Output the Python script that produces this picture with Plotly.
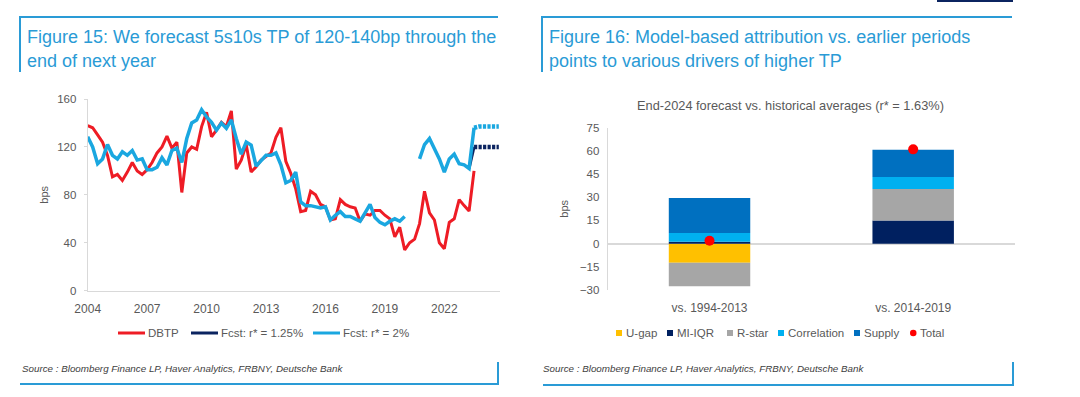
import plotly.graph_objects as go

W, H = 1080, 397

# ---------------- Figure 15 data (quarterly, 2004Q1 .. 2023Q3) ----------------
start_year = 2004.0
dbtp = [137.7, 136, 130, 124, 113, 95, 97, 92, 99, 107, 100, 97,
        101, 107, 115, 120, 129, 119, 124, 82, 115, 120, 118, 137,
        149, 128.5, 134, 140.5, 137, 150, 101.5, 109, 122, 99, 103.5, 109,
        112, 115, 128, 136, 108, 98, 85, 66, 67, 83, 80, 72,
        70, 59, 60, 76, 72, 70, 69, 58, 64, 63, 67, 67,
        63, 60, 45, 53, 34, 40, 43, 56, 83, 65, 59, 40,
        35, 57, 60, 76, 71, 66.5, 100]
fcst_2 = [128.5, 120, 106, 110, 122, 113, 110, 116, 113, 117, 109, 110,
          101, 101, 103, 111, 105, 117, 119, 107, 127, 140, 142.5, 151,
          145, 140.5, 134, 140, 135.5, 142.5, 127, 114, 124, 121.6, 104, 109,
          113, 113, 115, 105, 90, 92, 99, 74, 71, 71, 70, 69,
          70, 59, 63, 66, 62, 62, 60, 58, 65, 72, 61, 57,
          55, 58, 60, 58, 62, None, None, 110, 122, 127, 119, 110,
          99, 110, 114, 106, 105, 102, 136]
hist_x = [start_year + 0.25 * i for i in range(len(dbtp))]

# forecast paths
fc_x = [2023.5, 2023.75, 2024.0, 2024.25, 2024.5, 2024.75]
fc_2_vals = [136, 137, 137, 137, 137, 137]
fc_125_lead_x = [2023.25, 2023.5]
fc_125_lead = [102, 120]
fc_125_vals = [120, 120, 120, 120, 120, 120]

x_ticks_left = [2004, 2007, 2010, 2013, 2016, 2019, 2022]
y_ticks_left = [0, 40, 80, 120, 160]
left_names = ["DBTP", "Fcst: r* = 1.25%", "Fcst: r* = 2%"]

# ---------------- Figure 16 data ----------------
periods = ["vs. 1994-2013", "vs. 2014-2019"]
u_gap = [-12.3, 0.0]
mi_iqr = [1.2, 14.9]
r_star = [-15.3, 20.5]
correlation = [5.7, 7.7]
supply = [22.6, 17.7]
total = [1.9, 61.0]
y_ticks_right = [-30, -15, 0, 15, 30, 45, 60, 75]
right_names = ["U-gap", "MI-IQR", "R-star", "Correlation", "Supply", "Total"]

# ---------------- colours / fonts ----------------
RED = "#EE1C25"
NAVY = "#0B2460"
LBLUE = "#1AA7E0"
HEAD = "#2A9BD6"
GREY_TXT = "#595959"
AXIS = "#D9D9D9"
FONT = "Liberation Sans, Arial, sans-serif"
left_colors = [RED, NAVY, LBLUE]
right_colors = ["#FFC000", "#002060", "#A6A6A6", "#00B0F0", "#0070C0", "#FF0000"]


def px(x):
    return x / W


def py(y):
    return 1 - y / H


fig = go.Figure()

# ---- Figure 15 traces ----
fig.add_trace(go.Scatter(x=hist_x, y=dbtp, mode="lines", name=left_names[0],
                         line=dict(color=RED, width=3), xaxis="x", yaxis="y"))
fig.add_trace(go.Scatter(x=fc_125_lead_x, y=fc_125_lead, mode="lines", name=left_names[1],
                         line=dict(color=NAVY, width=3), xaxis="x", yaxis="y"))
fig.add_trace(go.Scatter(x=fc_x, y=fc_125_vals, mode="lines", name=left_names[1],
                         line=dict(color=NAVY, width=4.5, dash="3.2px,1.3px"),
                         xaxis="x", yaxis="y"))
fig.add_trace(go.Scatter(x=hist_x, y=fcst_2, mode="lines", name=left_names[2],
                         line=dict(color=LBLUE, width=3.5), connectgaps=False,
                         xaxis="x", yaxis="y"))
fig.add_trace(go.Scatter(x=fc_x, y=fc_2_vals, mode="lines", name=left_names[2],
                         line=dict(color=LBLUE, width=4.5, dash="3.2px,1.3px"),
                         xaxis="x", yaxis="y"))

# ---- Figure 16 traces ----
bar_vals = [u_gap, mi_iqr, r_star, correlation, supply]
for name, vals, col in zip(right_names[:5], bar_vals, right_colors[:5]):
    fig.add_trace(go.Bar(x=periods, y=vals, name=name,
                         marker=dict(color=col, line=dict(width=0)),
                         xaxis="x2", yaxis="y2", width=0.4))
fig.add_trace(go.Scatter(x=periods, y=total, mode="markers", name=right_names[5],
                         marker=dict(color=right_colors[5], size=10, line=dict(width=0)),
                         xaxis="x2", yaxis="y2"))

ytickfont = dict(family=FONT, size=11.5, color=GREY_TXT)
xtickfont = dict(family=FONT, size=12, color=GREY_TXT)

fig.update_layout(
    width=W, height=H,
    margin=dict(l=0, r=0, t=0, b=0, pad=0, autoexpand=False),
    paper_bgcolor="white", plot_bgcolor="white",
    font=dict(family=FONT, color=GREY_TXT),
    barmode="relative",
    showlegend=False,
    hovermode=False,
    xaxis=dict(domain=[px(87.7), px(500)], range=[2004, 2024.81], tickvals=x_ticks_left,
               ticktext=[str(v) for v in x_ticks_left], showgrid=False, zeroline=False,
               showline=True, linecolor=AXIS, linewidth=1, ticks="", tickfont=xtickfont,
               ticklabelstandoff=7, anchor="y", automargin=False),
    yaxis=dict(domain=[py(290.7), py(99)], range=[0, 160], tickvals=y_ticks_left,
               showgrid=False, zeroline=False, showline=True, linecolor=AXIS, linewidth=1,
               ticks="outside", ticklen=3, tickcolor=AXIS, tickfont=ytickfont,
               ticklabelstandoff=5,
               title=dict(text="bps", font=dict(family=FONT, size=11, color=GREY_TXT), standoff=6),
               anchor="x", automargin=False),
    xaxis2=dict(domain=[px(607.7), px(1015)], showgrid=False, zeroline=False, showline=False,
                ticks="", tickfont=xtickfont, anchor="y2",
                ticklabelstandoff=9, automargin=False),
    yaxis2=dict(domain=[py(290), py(127.7)], range=[-30, 75], tickvals=y_ticks_right,
                showgrid=False, zeroline=True, zerolinecolor=AXIS, zerolinewidth=1.5,
                showline=True, linecolor=AXIS, linewidth=1, ticks="", tickfont=ytickfont,
                ticklabelstandoff=5,
                title=dict(text="bps", font=dict(family=FONT, size=11, color=GREY_TXT), standoff=9),
                anchor="x2", automargin=False),
)

ann = []
shapes = []


def text(x, y, s, size, color, italic=False, xanchor="left"):
    ann.append(dict(x=px(x), y=py(y), xref="paper", yref="paper", text=s, showarrow=False,
                    xanchor=xanchor, yanchor="middle",
                    font=dict(family=FONT, size=size, color=color,
                              style="italic" if italic else "normal")))


def seg(x0, y0, x1, y1, color=HEAD, width=2):
    shapes.append(dict(type="line", xref="paper", yref="paper", x0=px(x0), y0=py(y0),
                       x1=px(x1), y1=py(y1), line=dict(color=color, width=width)))


# ---- headers / titles / sources ----
text(25, 37, "Figure 15: We forecast 5s10s TP of 120-140bp through the", 18.0, HEAD)
text(25, 61, "end of next year", 18.0, HEAD)
text(547, 37, "Figure 16: Model-based attribution vs. earlier periods", 18.0, HEAD)
text(547, 61, "points to various drivers of higher TP", 18.0, HEAD)
text(790, 105, "End-2024 forecast vs. historical averages (r* = 1.63%)", 12.8, GREY_TXT, xanchor="center")
text(20, 368, "Source : Bloomberg Finance LP, Haver Analytics, FRBNY, Deutsche Bank", 9.8, "#404040", italic=True)
text(541, 368, "Source : Bloomberg Finance LP, Haver Analytics, FRBNY, Deutsche Bank", 9.8, "#404040", italic=True)

# ---- legends (drawn as swatches + labels) ----
LEG_Y = 333
left_leg_x = [118, 191, 313]
for x0, name, col in zip(left_leg_x, left_names, left_colors):
    seg(x0, LEG_Y, x0 + 27, LEG_Y, color=col, width=3)
    text(x0 + 27.5, LEG_Y, name, 11.5, GREY_TXT)

right_leg_x = [616, 667, 727, 778, 854, 910]
for i, (x0, name, col) in enumerate(zip(right_leg_x, right_names, right_colors)):
    if i < 5:
        shapes.append(dict(type="rect", xref="paper", yref="paper", x0=px(x0), x1=px(x0 + 6),
                           y0=py(LEG_Y + 3), y1=py(LEG_Y - 3), fillcolor=col, line=dict(width=0)))
        text(x0 + 7.5, LEG_Y, name, 11.5, GREY_TXT)
    else:
        shapes.append(dict(type="circle", xref="paper", yref="paper", x0=px(x0), x1=px(x0 + 6.5),
                           y0=py(LEG_Y + 3.3), y1=py(LEG_Y - 3.2), fillcolor=col, line=dict(width=0)))
        text(x0 + 8, LEG_Y, name, 11.5, GREY_TXT)

# ---- frame lines ----
seg(20, 17, 498, 17)
seg(20, 16, 20, 72)
seg(542, 17, 1012, 17)
seg(542, 16, 542, 72)
seg(20, 384, 498, 384)
seg(498, 362, 498, 385)
seg(543, 385, 1013, 385)
seg(1013, 362, 1013, 386)
shapes.append(dict(type="rect", xref="paper", yref="paper", x0=px(937), x1=px(1013),
                   y0=py(2), y1=py(0), fillcolor=NAVY, line=dict(width=0)))

fig.update_layout(annotations=ann, shapes=shapes)

# remove the default page margin so the 1080x397 figure fills the window exactly
fig.write_html("out.html", config={"displayModeBar": False},
               post_script="document.body.style.margin='0';")
